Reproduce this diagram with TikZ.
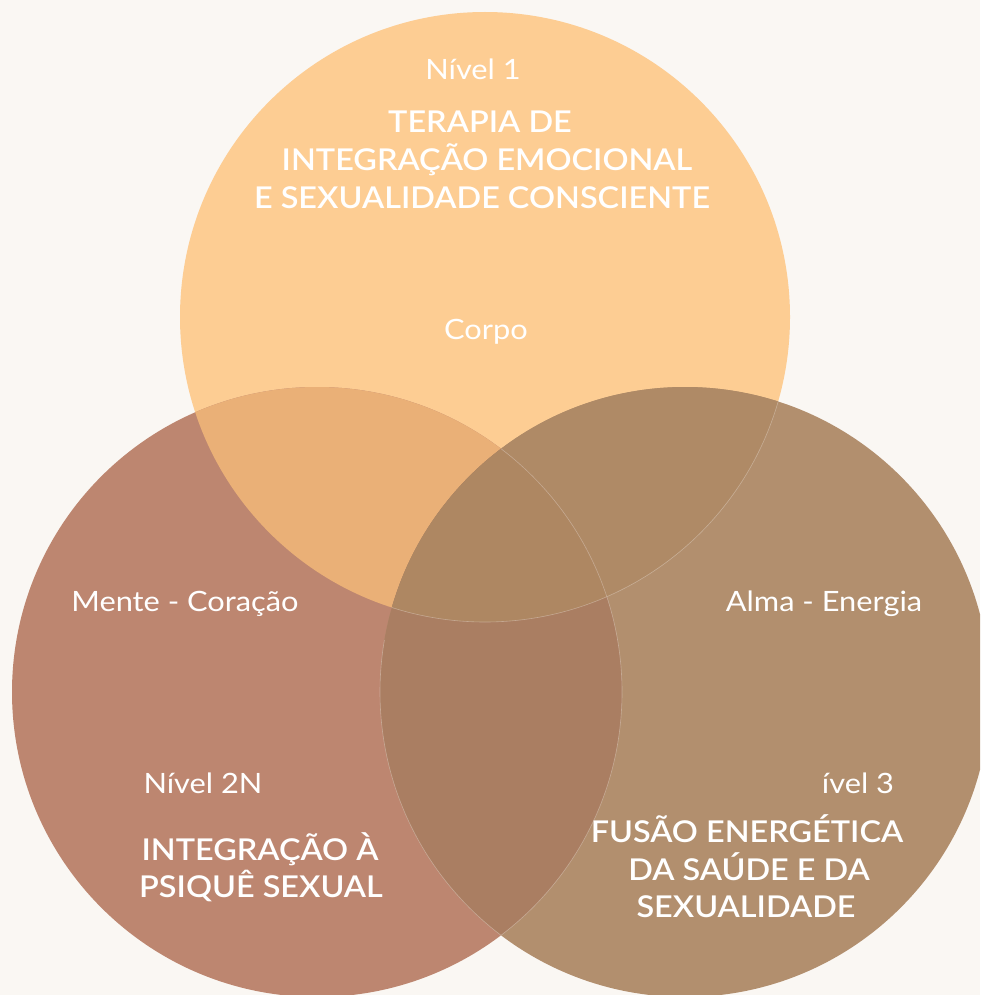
\documentclass[tikz,border=0pt]{standalone}
\usepackage{fontspec}
\newfontfamily\lightfont{Lato}[FakeStretch=1.1]
\IfFontExistsTF{Lato Semibold}{\newfontfamily\boldfont{Lato Semibold}[FakeStretch=1.08]}{\newfontfamily\boldfont{Lato}[UprightFont=*-Bold,FakeStretch=1.08]}
\setmainfont{Lato}
\definecolor{bg}{HTML}{FAF7F3}
\definecolor{cT}{HTML}{FDCD93}
\definecolor{cL}{HTML}{BD8670}
\definecolor{cR}{HTML}{B28F6E}
\definecolor{cTL}{HTML}{EAB077}
\definecolor{cTR}{HTML}{AF8A66}
\definecolor{cLR}{HTML}{AA7E62}
\definecolor{cTLR}{HTML}{AE8762}
\tikzset{
  lvl/.style={text=white, anchor=base, inner sep=0pt, font=\lightfont\fontsize{28}{34}\selectfont},
  lbl/.style={text=white, anchor=base, inner sep=0pt, font=\lightfont\fontsize{28}{34}\selectfont},
  ttl/.style={text=white, anchor=base, inner sep=0pt, font=\boldfont\fontsize{30}{37}\selectfont},
  edge/.style={draw=white, draw opacity=0.3, line width=0.6pt}
}
\begin{document}
\begin{tikzpicture}[x=1pt,y=-1pt]
\fill[bg] (0,0) rectangle (980,995);
\useasboundingbox (0,0) rectangle (980,995);
\coordinate (T) at (485,317);
\coordinate (L) at (317,692);
\coordinate (R) at (685,692);
\def\rad{305pt}
\begin{scope}
\clip (0,0) rectangle (980,995);
\fill[cT] (T) circle (\rad);
\fill[cL] (L) circle (\rad);
\fill[cR] (R) circle (\rad);
\begin{scope}\clip (T) circle (\rad); \fill[cTL] (L) circle (\rad); \fill[cTR] (R) circle (\rad); \end{scope}
\begin{scope}\clip (L) circle (\rad); \fill[cLR] (R) circle (\rad); \end{scope}
\begin{scope}\clip (T) circle (\rad); \clip (L) circle (\rad); \fill[cTLR] (R) circle (\rad); \end{scope}
\begin{scope}\clip (R) circle (\rad); \draw[edge] (L) circle (\rad); \draw[edge] (T) circle (\rad); \end{scope}
\begin{scope}\clip (0,640) rectangle (980,995); \clip (L) circle (\rad); \draw[edge] (R) circle (\rad); \end{scope}
\end{scope}
% texts
\node[lvl] (n1) at (473,80) {Nível 1};
\node[ttl] (t1a) at (480,133) {TERAPIA DE};
\node[ttl] (t1b) at (487,171) {INTEGRAÇÃO EMOCIONAL};
\node[ttl] (t1c) at (482,208) {E SEXUALIDADE CONSCIENTE};
\node[lbl] (corpo) at (486,339) {Corpo};
\node[lbl] (mente) at (185,611) {Mente - Coração};
\node[lbl] (alma) at (824,611) {Alma - Energia};
\node[lvl] (n2) at (203,793) {Nível 2N};
\node[ttl] (t2a) at (260,860) {INTEGRAÇÃO À};
\node[ttl] (t2b) at (261,897) {PSIQUÊ SEXUAL};
\node[lvl] (n3) at (858,793) {ível 3};
\node[ttl] (t3a) at (747,842) {FUSÃO ENERGÉTICA};
\node[ttl] (t3b) at (749,880) {DA SAÚDE E DA};
\node[ttl] (t3c) at (746,917) {SEXUALIDADE};
\end{tikzpicture}
\end{document}
